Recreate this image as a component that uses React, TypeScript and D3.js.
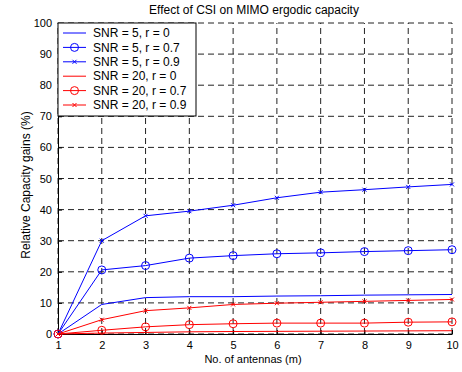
import React, { useEffect, useRef } from "react";
import * as d3 from "d3";

const antennas = [1, 2, 3, 4, 5, 6, 7, 8, 9, 10];
const snr5r0 = [0, 9.5, 11.7, 12, 12, 12.2, 12.3, 12.5, 12.6, 12.7];
const snr5r07 = [0, 20.6, 22, 24.4, 25.2, 25.8, 26.1, 26.5, 26.8, 27.1];
const snr5r09 = [0, 30, 38, 39.5, 41.4, 43.8, 45.6, 46.4, 47.3, 48.1];
const snr20r0 = [0, 0.3, 0.5, 0.7, 0.8, 0.85, 0.9, 0.95, 1.0, 1.05];
const snr20r07 = [0, 1.2, 2.3, 3.0, 3.3, 3.5, 3.5, 3.5, 3.8, 3.9];
const snr20r09 = [0, 4.6, 7.5, 8.4, 9.5, 9.9, 10.2, 10.5, 10.8, 11.1];
const yTicks = [0, 10, 20, 30, 40, 50, 60, 70, 80, 90, 100];

const series = [
  { name: "SNR = 5, r = 0", values: snr5r0, color: "#0000ff", marker: "none" },
  { name: "SNR = 5, r = 0.7", values: snr5r07, color: "#0000ff", marker: "o" },
  { name: "SNR = 5, r = 0.9", values: snr5r09, color: "#0000ff", marker: "x" },
  { name: "SNR = 20, r = 0", values: snr20r0, color: "#ff0000", marker: "none" },
  { name: "SNR = 20, r = 0.7", values: snr20r07, color: "#ff0000", marker: "o" },
  { name: "SNR = 20, r = 0.9", values: snr20r09, color: "#ff0000", marker: "x" },
];

export default function App() {
  const ref = useRef<SVGSVGElement>(null);

  useEffect(() => {
    const width = 462;
    const height = 372;
    const m = { top: 23, right: 10, bottom: 38, left: 58 };
    const x = d3.scaleLinear().domain([1, 10]).range([m.left, width - m.right]);
    const y = d3.scaleLinear().domain([0, 100]).range([height - m.bottom, m.top]);
    const font = "Arial, 'Liberation Sans', sans-serif";

    const svg = d3.select(ref.current);
    svg.selectAll("*").remove();
    svg.style("font-family", font);

    svg.append("rect").attr("width", width).attr("height", height).attr("fill", "white");

    // grid
    const grid = svg.append("g").attr("stroke", "#222").attr("stroke-dasharray", "6,4").attr("stroke-width", 1);
    antennas.forEach((a) => {
      grid.append("line").attr("x1", x(a)).attr("x2", x(a)).attr("y1", y(0)).attr("y2", y(100));
    });
    yTicks.forEach((t) => {
      grid.append("line").attr("x1", x(1)).attr("x2", x(10)).attr("y1", y(t)).attr("y2", y(t));
    });

    // axes
    const xAxis = svg
      .append("g")
      .attr("transform", `translate(0,${y(0)})`)
      .call(d3.axisBottom(x).tickValues(antennas).tickSizeInner(-4).tickSizeOuter(0).tickPadding(7));
    const yAxis = svg
      .append("g")
      .attr("transform", `translate(${x(1)},0)`)
      .call(d3.axisLeft(y).tickValues(yTicks).tickSizeInner(-4).tickSizeOuter(0).tickPadding(6));
    [xAxis, yAxis].forEach((g) => {
      g.selectAll("text").attr("font-size", 11).attr("fill", "#000").attr("font-family", font);
      g.select(".domain").attr("stroke", "#000");
      g.selectAll(".tick line").attr("stroke", "#000");
    });

    // lines
    const line = d3
      .line<number>()
      .x((_, i) => x(antennas[i]))
      .y((d) => y(d));

    const drawMarker = (g: any, cx: number, cy: number, s: any) => {
      if (s.marker === "o") {
        g.append("circle").attr("cx", cx).attr("cy", cy).attr("r", 4).attr("fill", "none").attr("stroke", s.color).attr("stroke-width", 1);
      } else if (s.marker === "x") {
        const r = 2;
        g.append("path")
          .attr("d", `M${cx - r},${cy - r}L${cx + r},${cy + r}M${cx - r},${cy + r}L${cx + r},${cy - r}`)
          .attr("stroke", s.color)
          .attr("stroke-width", 1);
      }
    };

    series.forEach((s) => {
      const g = svg.append("g");
      g.append("path").attr("d", line(s.values)).attr("fill", "none").attr("stroke", s.color).attr("stroke-width", 1);
      s.values.forEach((v, i) => drawMarker(g, x(antennas[i]), y(v), s));
    });

    // legend
    const lg = svg.append("g");
    lg.append("rect")
      .attr("x", x(1))
      .attr("y", y(100))
      .attr("width", 138)
      .attr("height", 93)
      .attr("fill", "white")
      .attr("stroke", "#000")
      .attr("stroke-width", 1);
    series.forEach((s, i) => {
      const ly = 33 + i * 14.4;
      lg.append("line").attr("x1", 63).attr("x2", 86).attr("y1", ly).attr("y2", ly).attr("stroke", s.color);
      drawMarker(lg, 74.5, ly, s);
      lg.append("text").attr("x", 93).attr("y", ly).attr("dy", "0.35em").attr("font-size", 12).text(s.name);
    });

    // labels
    svg.append("text").attr("x", 254).attr("y", 14).attr("text-anchor", "middle").attr("font-size", 12).text("Effect of CSI on MIMO ergodic capacity");
    svg.append("text").attr("x", 253).attr("y", 363).attr("text-anchor", "middle").attr("font-size", 11).text("No. of antennas (m)");
    svg
      .append("text")
      .attr("transform", `translate(30,185) rotate(-90)`)
      .attr("text-anchor", "middle")
      .attr("font-size", 12)
      .text("Relative Capacity gains (%)");
  }, []);

  return <svg ref={ref} width={462} height={372} style={{ position: "absolute", left: 0, top: 0 }} />;
}
